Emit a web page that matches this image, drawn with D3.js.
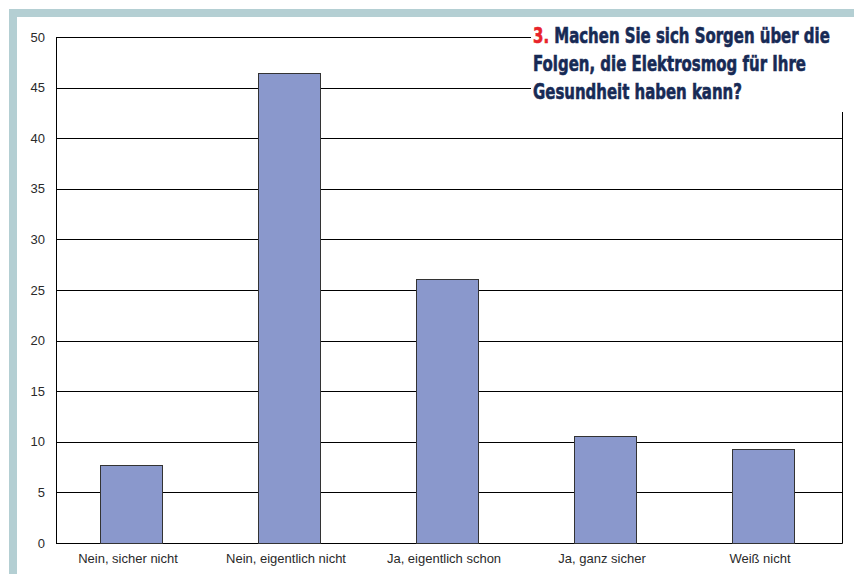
<!DOCTYPE html>
<html>
<head>
<meta charset="utf-8">
<script src="https://cdn.jsdelivr.net/npm/d3@7"></script>
<style>
  body { margin: 0; background: #fff; }
  svg { display: block; }
</style>
</head>
<body>
<div id="chart"></div>
<script>
var width = 854
var height = 574

// data
var categories = ['Nein, sicher nicht', 'Nein, eigentlich nicht', 'Ja, eigentlich schon', 'Ja, ganz sicher', 'Weiß nicht']
var values = [7.75, 46.45, 26.05, 10.6, 9.25]
var yTicks = [0, 5, 10, 15, 20, 25, 30, 35, 40, 45, 50]
var titleLines = ['Machen Sie sich Sorgen über die', 'Folgen, die Elektrosmog für Ihre', 'Gesundheit haben kann?']
var titleWidths = [297, 273, 209]

var plot = { left: 56, right: 842, top: 37, bottom: 543 }

var svg = d3.select('#chart').append('svg')
    .attr('width', width)
    .attr('height', height)

// light frame on top and left
svg.append('rect').attr('x', 9).attr('y', 9).attr('width', width - 9).attr('height', 8).style('fill', '#b4cfd3')
svg.append('rect').attr('x', 9).attr('y', 9).attr('width', 8).attr('height', height - 9).style('fill', '#b4cfd3')

var yScale = d3.scaleLinear()
    .domain([0, 50])
    .range([plot.bottom, plot.top])

var xScale = d3.scaleBand()
    .domain(categories)
    .range([52, plot.right])
    .paddingInner(0.607)
    .paddingOuter(0.3035)

// grid lines
svg.append('g').selectAll('line')
    .data(yTicks)
    .enter().append('line')
    .attr('x1', plot.left).attr('x2', plot.right)
    .attr('y1', d => Math.round(yScale(d)) + 0.5)
    .attr('y2', d => Math.round(yScale(d)) + 0.5)
    .style('stroke', '#000')
    .style('stroke-width', 1)

// frame of plot
svg.append('path')
    .attr('d', `M${plot.left + 0.5},${plot.top + 0.5}V${plot.bottom + 0.5}H${plot.right + 0.5}V${plot.top + 0.5}`)
    .style('fill', 'none')
    .style('stroke', '#000')

// bars
svg.append('g').selectAll('rect')
    .data(values)
    .enter().append('rect')
    .attr('x', (d, i) => Math.round(xScale(categories[i])) + 0.5)
    .attr('y', d => Math.round(yScale(d)) + 0.5)
    .attr('width', Math.round(xScale.bandwidth()))
    .attr('height', d => Math.round(yScale(0)) - Math.round(yScale(d)))
    .style('fill', '#8a98cc')
    .style('stroke', '#333')
    .style('stroke-width', 1)

// y tick labels
svg.append('g').selectAll('text')
    .data(yTicks)
    .enter().append('text')
    .attr('x', 45)
    .attr('y', d => yScale(d))
    .attr('dy', '0.35em')
    .attr('text-anchor', 'end')
    .style('font-family', 'Liberation Sans, Arial, sans-serif')
    .style('font-size', '13px')
    .style('fill', '#2a2a2a')
    .text(d => d)

// category labels
svg.append('g').selectAll('text')
    .data(categories)
    .enter().append('text')
    .attr('x', d => xScale(d) + xScale.bandwidth() / 2 - 3)
    .attr('y', 563)
    .attr('text-anchor', 'middle')
    .style('font-family', 'Liberation Sans, Arial, sans-serif')
    .style('font-size', '13px')
    .style('fill', '#2a2a2a')
    .text(d => d)

// title box over the top right corner
svg.append('rect')
    .attr('x', 531).attr('y', 17)
    .attr('width', width - 531).attr('height', 95)
    .style('fill', '#fff')

var title = svg.append('g')
title.selectAll('text')
    .data(titleLines)
    .enter().append('text')
    .attr('x', 0)
    .attr('y', 0)
    .style('font-family', '"DejaVu Sans Condensed", "DejaVu Sans", sans-serif')
    .style('font-stretch', 'condensed')
    .style('font-weight', 'bold')
    .style('font-size', '22px')
    .style('fill', '#172a55')
    .style('stroke', '#172a55')
    .style('stroke-width', 0.6)
    .each(function(d, i) {
        var t = d3.select(this)
        if (i === 0) {
            t.append('tspan').style('fill', '#e8232a').style('stroke', '#e8232a').text('3. ')
        }
        t.append('tspan').text(d)
        // squeeze each line to the width it has in the picture
        var sx = titleWidths[i] / this.getComputedTextLength()
        t.attr('transform', `translate(533,${43 + i * 28}) scale(${sx},1)`)
    })
</script>
</body>
</html>
